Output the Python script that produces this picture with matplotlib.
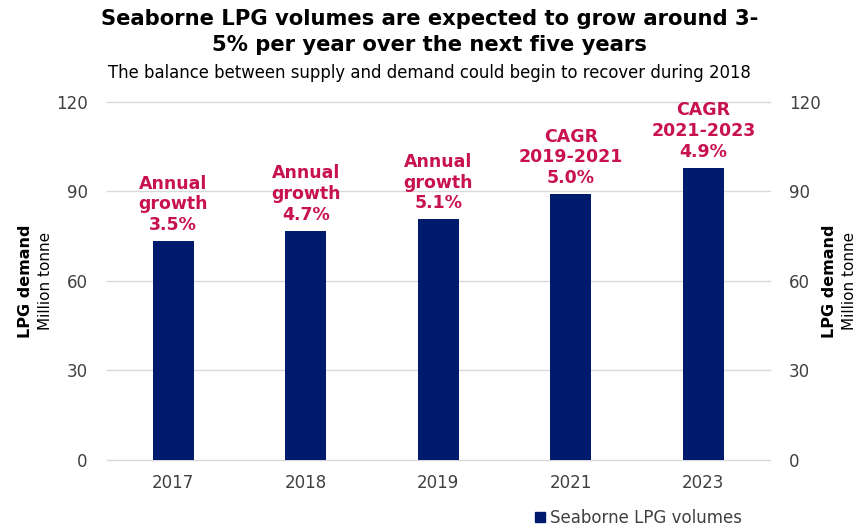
import matplotlib
matplotlib.use("Agg")
import matplotlib.pyplot as plt
from matplotlib.patches import Patch

years = ["2017", "2018", "2019", "2021", "2023"]
volumes = [73.3, 76.7, 80.6, 89.0, 97.9]
annotations = ["Annual\ngrowth\n3.5%", "Annual\ngrowth\n4.7%", "Annual\ngrowth\n5.1%",
               "CAGR\n2019-2021\n5.0%", "CAGR\n2021-2023\n4.9%"]
yticks = [0, 30, 60, 90, 120]

bar_color = "#001A6E"
ann_color = "#C8124F"
tick_color = "#404040"

plt.rcParams['font.family'] = ['DejaVu Sans']
fig = plt.figure(figsize=(8.59, 5.26), dpi=100)
ax = fig.add_axes([0.1246, 0.1255, 0.896 - 0.1246, 0.8067 - 0.1255])

x = list(range(len(years)))
ax.bar(x, volumes, width=0.31, color=bar_color, zorder=3)
ax.set_xlim(-0.5, len(years) - 0.5)
ax.set_ylim(0, 120)
ax.set_yticks(yticks)
ax.set_xticks(x)
ax.set_xticklabels(years)
ax.grid(axis='y', color='#D9D9D9', linewidth=1, zorder=0)
for gl in ax.get_ygridlines():
    gl.set_clip_on(False)
for s in ax.spines.values():
    s.set_visible(False)
ax.tick_params(axis='both', length=0, labelsize=12, labelcolor=tick_color)
ax.tick_params(axis='y', pad=14)
ax.tick_params(axis='x', pad=10)

ax2 = ax.twinx()
ax2.set_ylim(0, 120)
ax2.set_yticks(yticks)
for s in ax2.spines.values():
    s.set_visible(False)
ax2.tick_params(axis='y', length=0, labelsize=12, labelcolor=tick_color, pad=14)

for xi, v, t in zip(x, volumes, annotations):
    ax.annotate(t, xy=(xi, v), xytext=(0, 5), textcoords='offset points',
                ha='center', va='bottom', fontsize=12.5, fontweight='bold',
                color=ann_color, linespacing=1.2, zorder=4)

# y-axis titles
for xpos_b, xpos_r in [(26 / 859, 45 / 859), (830 / 859, 849 / 859)]:
    fig.text(xpos_b, 0.466, "LPG demand", rotation=90, ha='center', va='center',
             fontsize=11.5, fontweight='bold', color='black')
    fig.text(xpos_r, 0.466, "Million tonne", rotation=90, ha='center', va='center',
             fontsize=11, color='black')

fig.text(0.5, 1 - 32 / 526, "Seaborne LPG volumes are expected to grow around 3-\n5% per year over the next five years",
         ha='center', va='center', fontsize=15.2, fontweight='bold', color='black', linespacing=1.33)
fig.text(0.5, 1 - 73 / 526, "The balance between supply and demand could begin to recover during 2018",
         ha='center', va='center', fontsize=11.9, color='black')

leg = fig.legend(handles=[Patch(color=bar_color, label="Seaborne LPG volumes")],
                 loc='center', bbox_to_anchor=(638 / 859, 1 - 518 / 526), frameon=False,
                 fontsize=12, handlelength=0.6, handleheight=0.6, handletextpad=0.3)
for t in leg.get_texts():
    t.set_color(tick_color)

fig.savefig("out.png", dpi=100)
